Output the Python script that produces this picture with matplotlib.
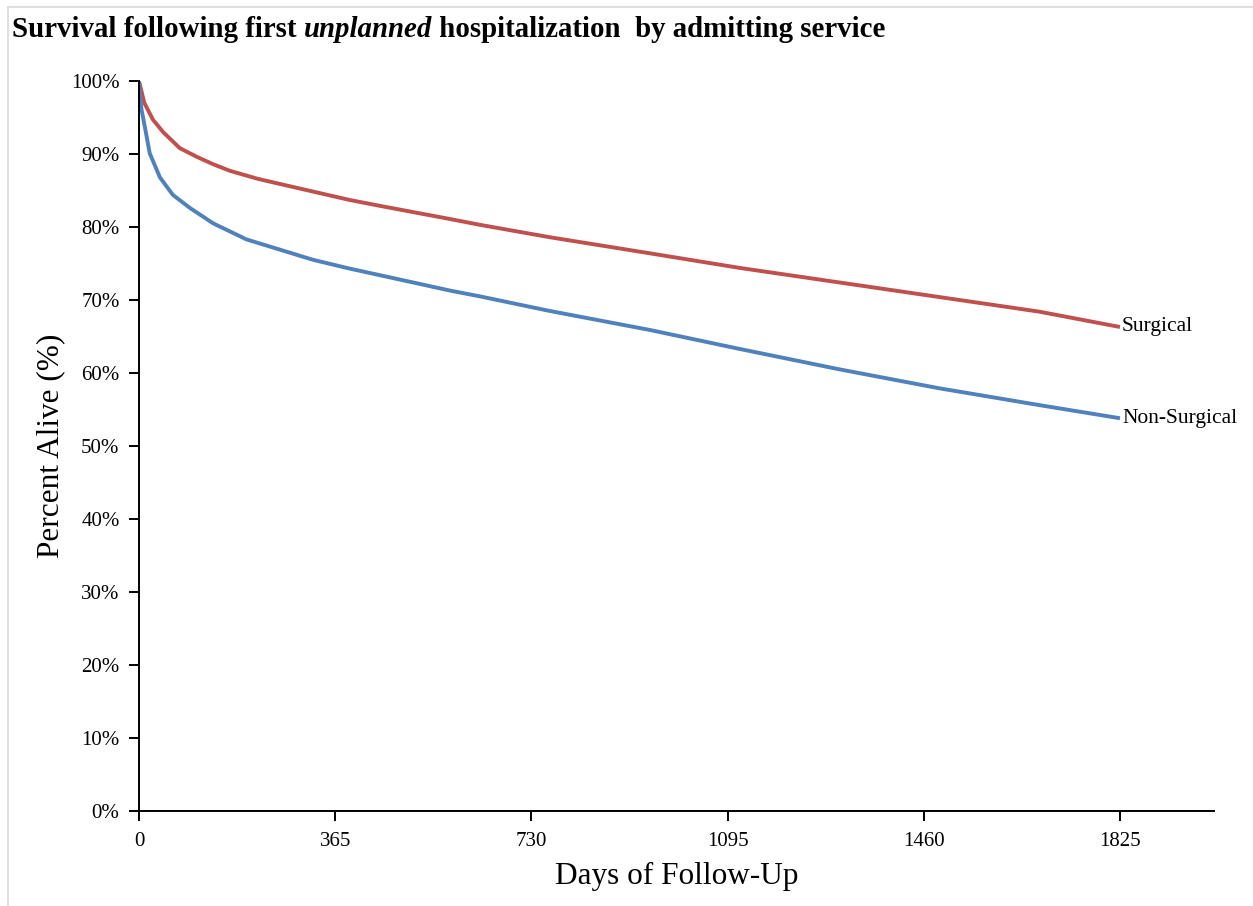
"""Survival following first unplanned hospitalization, by admitting service."""

import matplotlib

matplotlib.use("Agg")
import matplotlib.pyplot as plt
from matplotlib.lines import Line2D
from matplotlib.ticker import FuncFormatter

# values (day of follow-up, percent alive)
surg_days = [0, 10, 26, 45, 76, 108, 138, 169, 221, 262, 392, 448, 578,
             634, 764, 950, 1117, 1303, 1489, 1675, 1825]
surg_pct = [100.0, 97.0, 94.7, 93.0, 90.8, 89.6, 88.6, 87.7, 86.6, 85.9,
            83.7, 82.9, 81.1, 80.3, 78.6, 76.4, 74.4, 72.4, 70.4, 68.4, 66.3]

nonsurg_days = [0, 1, 5, 11, 20, 39, 63, 95, 138, 200, 262, 324, 392, 448,
                510, 578, 634, 764, 950, 1117, 1303, 1489, 1675, 1825]
nonsurg_pct = [100.0, 98.4, 96.0, 93.7, 90.1, 86.8, 84.4, 82.6, 80.5, 78.3,
               76.9, 75.5, 74.3, 73.4, 72.4, 71.3, 70.5, 68.5, 65.9, 63.3,
               60.5, 57.9, 55.6, 53.8]

x_ticks = [0, 365, 730, 1095, 1460, 1825]
y_ticks = [0, 10, 20, 30, 40, 50, 60, 70, 80, 90, 100]

RED = "#C0504D"
BLUE = "#4F81BD"
SERIF = ["Liberation Serif", "DejaVu Serif"]


def main():
    plt.rcParams["font.family"] = SERIF
    fig = plt.figure(figsize=(12.53, 9.06), dpi=100)
    ax = fig.add_axes([0.1109, 0.1049, 0.9689 - 0.1109, 0.9106 - 0.1049])

    ax.plot(surg_days, surg_pct, color=RED, lw=2.8, solid_capstyle="butt")
    ax.plot(nonsurg_days, nonsurg_pct, color=BLUE, lw=2.8, solid_capstyle="butt")

    ax.text(surg_days[-1] + 4, surg_pct[-1], "Surgical", fontsize=15.5,
            ha="left", va="center")
    ax.text(nonsurg_days[-1] + 4, nonsurg_pct[-1], "Non-Surgical", fontsize=15.5,
            ha="left", va="center")

    ax.set_xlim(0, 2000)
    ax.set_ylim(0, 100)
    ax.set_xticks(x_ticks)
    ax.set_yticks(y_ticks)
    ax.yaxis.set_major_formatter(FuncFormatter(lambda v, _: f"{v:.0f}%"))
    ax.tick_params(direction="out", length=7, width=1.4, labelsize=15,
                   colors="black")
    ax.tick_params(axis="x", pad=8)
    ax.tick_params(axis="y", pad=7)

    for side in ["top", "right"]:
        ax.spines[side].set_visible(False)
    for side in ["left", "bottom"]:
        ax.spines[side].set_linewidth(1.4)

    ax.set_xlabel("Days of Follow-Up", fontsize=22.5, labelpad=8)
    ax.set_ylabel("Percent Alive (%)", fontsize=22.5, labelpad=4)

    # title with an italic word in the middle
    ty = 0.967
    t1 = fig.text(0.0096, ty, "Survival following first ", fontsize=20.8,
                  fontweight="bold", ha="left", va="center")
    fig.canvas.draw()
    r = fig.canvas.get_renderer()
    bb = t1.get_window_extent(r)
    t2 = fig.text(bb.x1 / fig.bbox.width, ty, "unplanned", fontsize=20.8,
                  fontweight="bold", style="italic", ha="left", va="center")
    bb2 = t2.get_window_extent(r)
    fig.text(bb2.x1 / fig.bbox.width, ty, " hospitalization  by admitting service",
             fontsize=20.8, fontweight="bold", ha="left", va="center")

    # light frame lines at top and left of the figure
    fig.add_artist(Line2D([0.0064, 0.0064], [0.0, 0.9925], color="#D9D9D9",
                          lw=1.2, transform=fig.transFigure))
    fig.add_artist(Line2D([0.0064, 1.0], [0.9925, 0.9925], color="#D9D9D9",
                          lw=1.2, transform=fig.transFigure))

    fig.savefig("out.png", dpi=100)


if __name__ == "__main__":
    main()
